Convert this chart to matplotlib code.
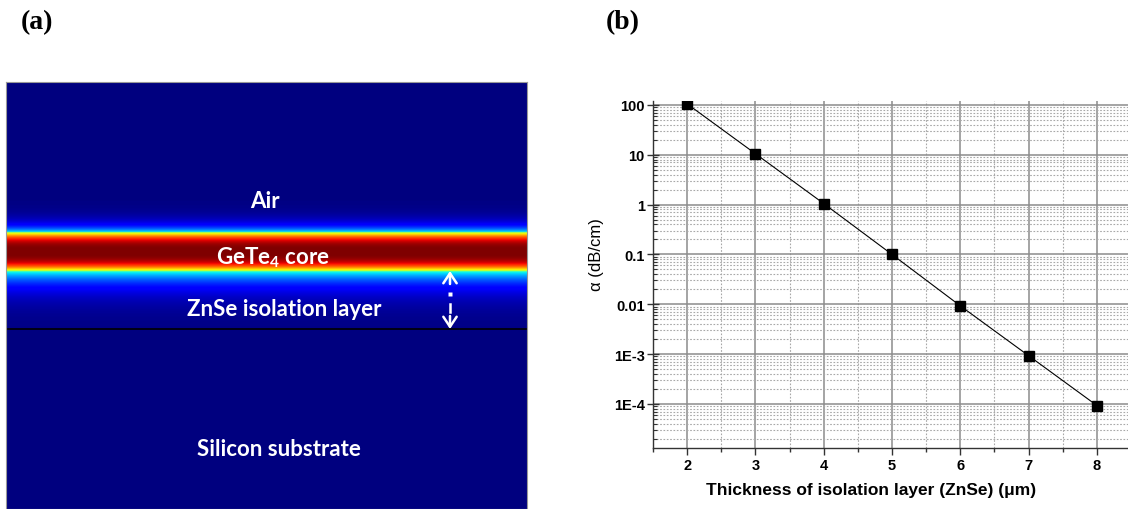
import numpy as np
import matplotlib.pyplot as plt
from matplotlib.ticker import FixedLocator, FixedFormatter, LogLocator, NullFormatter

# panel (b) data
thickness = [2, 3, 4, 5, 6, 7, 8]
alpha = [105, 10.5, 1.05, 0.1, 0.0093, 0.00093, 9.3e-5]
ytick_vals = [1e-4, 1e-3, 1e-2, 1e-1, 1, 10, 100]
ytick_labels = ['1E-4', '1E-3', '0.01', '0.1', '1', '10', '100']

# panel (a) layer boundaries (panel units, top = 0)
panel_h = 427
core_top = 150
core_bot = 189
znse_bot = 247
air_decay = 7.0
znse_decay = 14.0

plt.rcParams['mathtext.fontset'] = 'custom'
plt.rcParams['mathtext.bf'] = 'Lato:bold'
plt.rcParams['mathtext.rm'] = 'Lato:bold'

fig = plt.figure(figsize=(11.28, 5.10), dpi=100)

# ---- (a) mode profile ----
ax1 = fig.add_axes([6 / 1128, 0, 521 / 1128, 427 / 510])
y = np.arange(0, panel_h, 0.25)
center = 0.5 * (core_top + core_bot)
half = 0.5 * (core_bot - core_top)
prof = np.zeros_like(y)
inside = (y >= core_top) & (y <= core_bot)
prof[inside] = 1 - 0.45 * np.abs((y[inside] - center) / half) ** 3
above = y < core_top
prof[above] = 0.36 * np.exp(-(core_top - y[above]) / air_decay)
below = (y > core_bot) & (y < znse_bot)
prof[below] = 0.40 * np.exp(-(y[below] - core_bot) / znse_decay)
field = np.tile(prof[:, None], (1, 10))
ax1.imshow(field, cmap='jet', vmin=0, vmax=1, aspect='auto',
           extent=[0, 521, panel_h, 0], interpolation='bilinear')
ax1.axhline(znse_bot, color='black', lw=1.2)
ax1.set_xlim(0, 521)
ax1.set_ylim(panel_h, 0)
ax1.set_xticks([])
ax1.set_yticks([])
for s in ax1.spines.values():
    s.set_color('#999999')
    s.set_linewidth(0.8)

tkw = dict(color='white', fontfamily='Lato', fontweight='bold', fontsize=16,
           ha='center', va='center')
ax1.text(259, 119, 'Air', **tkw)
ax1.text(267, 175, r'GeTe$_{\mathbf{4}}$ core', **tkw)
ax1.text(278, 227, 'ZnSe isolation layer', **tkw)
ax1.text(273, 367, 'Silicon substrate', **tkw)

# dashed double arrow across the isolation layer
ax_x = 444
head = dict(arrowstyle='->,head_width=0.4,head_length=0.6', color='white',
            lw=1.8, mutation_scale=12, shrinkA=0, shrinkB=0)
ax1.annotate('', xy=(ax_x, core_bot), xytext=(ax_x, 202), arrowprops=head)
ax1.plot([ax_x], [212], marker='s', ms=2.5, color='white', mec='none')
ax1.plot([ax_x, ax_x], [222, 230], color='white', lw=1.8)
ax1.annotate('', xy=(ax_x, znse_bot), xytext=(ax_x, 234), arrowprops=head)

fig.text(21 / 1128, 1 - 23 / 510, '(a)', fontfamily='Liberation Serif',
         fontweight='bold', fontsize=20, va='center', ha='left')
fig.text(606 / 1128, 1 - 23 / 510, '(b)', fontfamily='Liberation Serif',
         fontweight='bold', fontsize=20, va='center', ha='left')

# ---- (b) loss vs thickness ----
ax2 = fig.add_axes([653 / 1128, 61 / 510, 478 / 1128, 347 / 510])
ax2.plot(thickness, alpha, color='black', lw=0.8, marker='s', ms=6.5,
         mfc='black', mec='black')
ax2.set_yscale('log')
ax2.set_xlim(1.5, 8.5)
ax2.set_ylim(1.305e-5, 120)

ax2.xaxis.set_major_locator(FixedLocator(thickness))
ax2.xaxis.set_minor_locator(FixedLocator(np.arange(1.5, 8.6, 1.0)))
ax2.yaxis.set_major_locator(FixedLocator(ytick_vals))
ax2.yaxis.set_major_formatter(FixedFormatter(ytick_labels))
ax2.yaxis.set_minor_locator(LogLocator(base=10, subs=np.arange(2, 10), numticks=20))
ax2.yaxis.set_minor_formatter(NullFormatter())

ax2.grid(True, which='major', color='#8c8c8c', lw=1.1, ls='-')
ax2.grid(True, which='minor', axis='y', color='#a8a8a8', lw=0.8, ls=(0, (1.5, 1.5)))
ax2.grid(True, which='minor', axis='x', color='#a8a8a8', lw=0.8, ls=(0, (1.5, 1.5)))
ax2.set_axisbelow(True)

ax2.spines['top'].set_visible(False)
ax2.spines['right'].set_visible(False)
for s in ('left', 'bottom'):
    ax2.spines[s].set_color('#333333')
    ax2.spines[s].set_linewidth(1.0)

ax2.tick_params(axis='x', which='major', direction='out', length=5, width=1,
                color='#333333', pad=2)
ax2.tick_params(axis='x', which='minor', direction='out', length=3, width=1,
                color='#333333')
ax2.tick_params(axis='y', which='major', direction='inout', length=8, width=1,
                color='#333333', pad=2)
ax2.tick_params(axis='y', which='minor', direction='in', length=3, width=0.8,
                color='#333333')
for lab in ax2.get_xticklabels() + ax2.get_yticklabels():
    lab.set_fontfamily('Liberation Sans')
    lab.set_fontweight('bold')
    lab.set_fontsize(10.5)

ax2.set_xlabel('Thickness of isolation layer (ZnSe) (\u03bcm)', fontfamily='Liberation Sans',
               fontweight='bold', fontsize=12.5)
ax2.xaxis.set_label_coords(0.456, -0.098)
ax2.set_ylabel('\u03b1 (dB/cm)', fontfamily='Liberation Sans', fontsize=12)
ax2.yaxis.set_label_coords(-0.1025, 0.559)

fig.savefig('out.png', dpi=100)
